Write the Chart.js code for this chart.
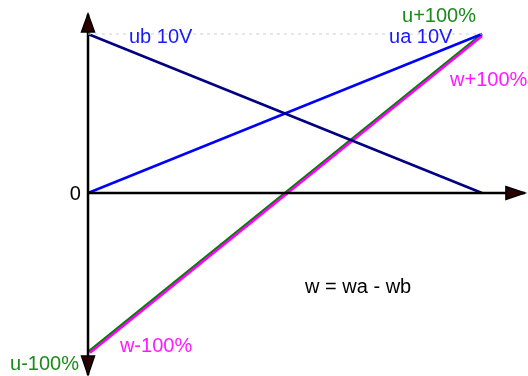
<!DOCTYPE html>
<html>
<head>
<meta charset="utf-8">
<script src="https://cdn.jsdelivr.net/npm/chart.js@4/dist/chart.umd.min.js"></script>
<style>
html,body{margin:0;padding:0;background:#fff;}
#c{display:block;}
</style>
</head>
<body>
<canvas id="c" width="528" height="376"></canvas>
<script>
// ---- data ----
const xEnds = [0, 10];
const ubValues = [10, 0];
const uaValues = [0, 10];
const uValues = [-10, 10];
const wX = [0.05, 10];
const wValues = [-10.05, 9.87];
const refLineY = [10, 10];
const axisX = [0, 11.09];
const axisY = [-11.45, 11.26];

const labelTexts = ['ub 10V', 'ua 10V', 'u+100%', 'w+100%', '0', 'u-100%', 'w-100%', 'w = wa - wb'];
const labelColors = ['#1a1aff', '#1a1aff', '#1a8a1a', '#ff1aff', '#000', '#1a8a1a', '#ff1aff', '#000'];
const labelPos = [[1.04, 9.43], [7.64, 9.43], [7.97, 10.75], [9.19, 6.73], [-0.18, -0.44], [-1.98, -11.13], [0.81, -10], [5.51, -6.29]];
const labelAlign = ['left', 'left', 'left', 'left', 'right', 'left', 'left', 'left'];

function pts(xs, ys) { return xs.map((x, i) => ({x: x, y: ys[i]})); }

const arrowPlugin = {
  id: 'arrows',
  afterDatasetsDraw(chart) {
    const ctx = chart.ctx, xs = chart.scales.x, ys = chart.scales.y;
    const x0 = xs.getPixelForValue(0), y0 = ys.getPixelForValue(0);
    const top = ys.getPixelForValue(axisY[1]), bot = ys.getPixelForValue(axisY[0]);
    const right = xs.getPixelForValue(axisX[1]);
    ctx.save();
    ctx.fillStyle = '#2a0000';
    ctx.strokeStyle = '#000';
    ctx.lineWidth = 1.5;
    ctx.lineJoin = 'miter';
    const tri = (a, b, c) => {
      ctx.beginPath(); ctx.moveTo(a[0], a[1]); ctx.lineTo(b[0], b[1]); ctx.lineTo(c[0], c[1]); ctx.closePath(); ctx.fill(); ctx.stroke();
    };
    tri([x0, top], [x0 - 6.5, top + 18], [x0 + 6.5, top + 18]);
    tri([x0, bot], [x0 - 6.5, bot - 19], [x0 + 6.5, bot - 19]);
    tri([right, y0], [right - 19, y0 - 6.5], [right - 19, y0 + 6.5]);
    // labels
    ctx.font = '20px "Liberation Sans", Arial, sans-serif';
    ctx.textBaseline = 'alphabetic';
    labelTexts.forEach((t, i) => {
      ctx.fillStyle = labelColors[i];
      ctx.textAlign = labelAlign[i];
      ctx.fillText(t, xs.getPixelForValue(labelPos[i][0]), ys.getPixelForValue(labelPos[i][1]));
    });
    ctx.restore();
  }
};

new Chart(document.getElementById('c'), {
  type: 'scatter',
  data: {
    datasets: [
      {data: pts(xEnds, refLineY), borderColor: '#d0d0d0', borderWidth: 1, borderDash: [3, 4], showLine: true, pointRadius: 0},
      {data: pts([0, 0], axisY), borderColor: '#000', borderWidth: 2.5, showLine: true, pointRadius: 0},
      {data: pts(axisX, [0, 0]), borderColor: '#000', borderWidth: 2.5, showLine: true, pointRadius: 0},
      {data: pts(xEnds, ubValues), borderColor: '#000080', borderWidth: 2.5, showLine: true, pointRadius: 0},
      {data: pts(xEnds, uaValues), borderColor: '#0000ff', borderWidth: 2.5, showLine: true, pointRadius: 0},
      {data: pts(wX, wValues), borderColor: '#ff00ff', borderWidth: 2.5, showLine: true, pointRadius: 0},
      {data: pts(xEnds, uValues), borderColor: '#008000', borderWidth: 2.5, showLine: true, pointRadius: 0}
    ]
  },
  options: {
    responsive: false,
    animation: false,
    devicePixelRatio: 1,
    layout: {padding: 0},
    plugins: {legend: {display: false}, tooltip: {enabled: false}},
    scales: {
      x: {type: 'linear', display: false, min: -2.234, max: 11.168},
      y: {type: 'linear', display: false, min: -11.51, max: 12.14}
    }
  },
  plugins: [arrowPlugin]
});
</script>
</body>
</html>
